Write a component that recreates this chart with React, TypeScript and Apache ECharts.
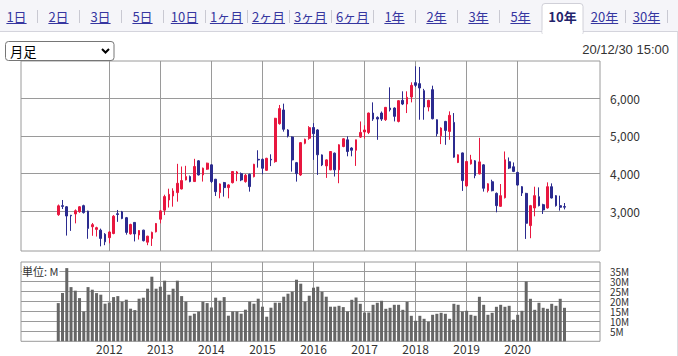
import React, { useEffect, useRef } from 'react';
import * as echarts from 'echarts';

// Monthly candles, Jan 2011 .. Dec 2020
const firstYear = 2011;
const opens = [
  2910, 3150, 3120, 2895, 2930, 2990, 3150, 3005, 2590, 2520,
  2500, 2390, 2300, 2410, 2935, 2985, 2830, 2400, 2705, 2370,
  2500, 2180, 2280, 2455, 2790, 3030, 3300, 3407, 3496, 3593,
  3833, 3922, 3789, 4340, 3966, 4118, 4233, 3851, 3496, 3762,
  3629, 3760, 4000, 4000, 3788, 3982, 3920, 4380, 4380, 4088,
  4380, 4318, 5327, 5690, 5159, 4973, 4292, 3965, 4805, 4938,
  5225, 5160, 4497, 4205, 4100, 4544, 4100, 4720, 4898, 4680,
  4620, 4970, 5106, 5092, 5608, 5493, 5608, 5431, 5741, 5741,
  5386, 5945, 5848, 6034, 6415, 6389, 6202, 5768, 6229, 5431,
  5005, 5386, 5120, 5360, 4295, 4550, 3674, 4259, 4339, 3993,
  4233, 3550, 3785, 3476, 3132, 3362, 4315, 4182, 4032, 3653,
  3476, 2620, 3088, 3388, 3176, 3088, 3653, 3415, 3150, 3125,
];
const closes = [
  3145, 3130, 2875, 2880, 3015, 3120, 2965, 2545, 2645, 2565,
  2280, 2190, 2450, 2870, 2915, 2810, 2440, 2650, 2400, 2490,
  2220, 2340, 2440, 2675, 3010, 3390, 3450, 3540, 3744, 3815,
  3922, 3789, 4189, 3966, 4144, 4278, 3789, 3522, 3726, 3629,
  3700, 4056, 4044, 3832, 3956, 3655, 4248, 4363, 4142, 4407,
  4363, 5469, 5726, 5177, 5000, 4363, 4000, 4823, 4911, 5221,
  5060, 4500, 4230, 4365, 4587, 4100, 4765, 4925, 4587, 4620,
  4898, 5094, 5159, 5608, 5449, 5449, 5449, 5759, 5697, 5520,
  5936, 5848, 6025, 6344, 6344, 6273, 5768, 5945, 5458, 5058,
  5209, 5147, 5547, 4437, 4499, 3815, 4321, 4366, 3948, 4312,
  3612, 3730, 3547, 3150, 3415, 4368, 4147, 4059, 3697, 3485,
  2682, 3150, 3415, 3150, 3035, 3653, 3353, 3150, 3106, 3110,
];
const lows = [
  2880, 3060, 2355, 2480, 2680, 2960, 2940, 2270, 2350, 2330,
  2070, 2100, 2150, 2390, 2720, 2790, 2380, 2380, 2200, 2250,
  2200, 2100, 2080, 2440, 2680, 2900, 3100, 3123, 3256, 3580,
  3820, 3770, 3780, 3950, 3789, 4100, 3750, 3407, 3345, 3389,
  3345, 3740, 3800, 3800, 3760, 3522, 3900, 4159, 3982, 4070,
  4200, 4290, 5300, 5115, 4960, 4053, 3788, 3940, 4780, 4900,
  4365, 3966, 4200, 3887, 4090, 3923, 3745, 4700, 4460, 4460,
  4205, 4950, 4929, 5050, 5400, 4898, 5400, 5400, 5650, 5386,
  5360, 5820, 5608, 5892, 6300, 5431, 5431, 5653, 5440, 4987,
  4783, 4765, 4898, 4420, 4280, 3541, 3650, 4240, 3877, 3980,
  3523, 3500, 3530, 2973, 3120, 3340, 4120, 4040, 3680, 3406,
  2267, 2285, 2867, 3130, 2929, 3070, 3340, 3123, 3018, 3050,
];
const highs = [
  3180, 3300, 3140, 2905, 3050, 3140, 3175, 3015, 2690, 2590,
  2540, 2420, 2470, 2900, 3035, 3010, 2850, 2670, 2710, 2500,
  2510, 2350, 2460, 2690, 3030, 3440, 3600, 3611, 4260, 4189,
  4207, 3950, 4393, 4360, 4160, 4290, 4250, 3860, 3740, 3780,
  3720, 4070, 4070, 4030, 3990, 4000, 4260, 4620, 4400, 4420,
  4513, 5480, 5823, 5858, 5180, 4990, 4310, 4840, 4930, 5260,
  5340, 5180, 4510, 4380, 4600, 4560, 4780, 4940, 4990, 4700,
  4900, 5385, 5283, 5620, 5892, 5520, 5650, 5770, 6291, 5760,
  5950, 6185, 6185, 6424, 6850, 6832, 6250, 5960, 6335, 5440,
  5230, 5400, 5653, 5608, 4510, 4560, 4340, 4499, 4360, 4950,
  4250, 3745, 3838, 3500, 3724, 4588, 4429, 4297, 4050, 3670,
  3490, 3170, 3653, 3635, 3200, 3768, 3741, 3430, 3415, 3220,
];
// Volume, millions of shares
const volumes = [
  19.1, 24.1, 36.6, 27.1, 25.3, 21.6, 14.9, 27.1, 25.8, 24.1,
  23.3, 18.8, 19.4, 22.1, 22.6, 19.8, 20.8, 16.3, 15.6, 21.3,
  21.8, 26.3, 32.3, 26.3, 27.3, 30.3, 23.3, 26.3, 30.3, 22.6,
  19.8, 12.8, 13.8, 14.8, 19.8, 19.1, 16.9, 21.8, 20.3, 22.1,
  12.8, 14.9, 14.9, 13.8, 15.8, 19.8, 18.8, 21.3, 17.3, 12.3,
  16.8, 19.3, 19.3, 22.3, 23.8, 24.8, 30.8, 28.8, 19.8, 22.8,
  26.8, 27.3, 24.8, 22.3, 17.3, 17.3, 17.75, 17.1, 14.9, 20.75,
  21.9, 18.75, 14.4, 14.4, 18.25, 19.25, 20.25, 16.25, 16.75, 18.25,
  18.25, 15.75, 19.75, 12.75, 10.25, 12.75, 11.25, 9.75, 13.25, 13.75,
  14.25, 13.75, 11.25, 18.75, 18.25, 14.9, 15.25, 13.25, 12.75, 22.25,
  18.25, 13.25, 14.25, 17.25, 18.25, 17.25, 17.75, 10.75, 13.25, 15.25,
  29.9, 21.25, 15.75, 19.25, 16.75, 16.25, 18.75, 17.75, 21.25, 16.75,
];
const yearLabels = ['2012', '2013', '2014', '2015', '2016', '2017', '2018', '2019', '2020'];
const priceTicks = [3000, 4000, 5000, 6000];
const volumeTicks = [5, 10, 15, 20, 25, 30, 35];
const tabs = ['1日', '2日', '3日', '5日', '10日', '1ヶ月', '2ヶ月', '3ヶ月', '6ヶ月', '1年', '2年', '3年', '5年', '10年', '20年', '30年'];
const selectedTab = '10年';
const selectLabel = '月足';
const timestamp = '20/12/30 15:00';
const volumeUnit = '単位: M';

const JP = '"Noto Sans CJK JP", "Noto Sans", sans-serif';
const UP = '#e8173f';
const DOWN = '#2b2b8f';
const GRID = '#9a9a9a';

function measure(text: string, font: string): number {
  const ctx = document.createElement('canvas').getContext('2d');
  if (!ctx) return text.length * 13;
  ctx.font = font;
  return ctx.measureText(text).width;
}

function gridMarkLine(xs: number[], ys: number[]) {
  return {
    silent: true,
    z: 1,
    symbol: ['none', 'none'],
    label: { show: false },
    emphasis: { disabled: true },
    lineStyle: { color: GRID, width: 1, type: 'solid' },
    data: [...xs.map((v) => ({ xAxis: v })), ...ys.map((v) => ({ yAxis: v }))],
  };
}

export default function App() {
  const ref = useRef<HTMLDivElement>(null);
  useEffect(() => {
    if (!ref.current) return;
    const chart = echarts.init(ref.current, undefined, { renderer: 'svg' });
    const candleData = opens.map((o, i) => [i, o, closes[i], lows[i], highs[i]]);
    const volData = volumes.map((v, i) => [i, v]);
    const yearTicks = yearLabels.map((y) => (Number(y) - firstYear) * 12);

    const graphics: any[] = [];
    graphics.push({ type: 'rect', silent: true, shape: { x: 0, y: 0, width: 678, height: 31 }, style: { fill: '#f5f5f9' } });
    graphics.push({ type: 'line', silent: true, shape: { x1: 0, y1: 31.5, x2: 678, y2: 31.5 }, style: { stroke: '#d4d4dc', lineWidth: 1 } });
    graphics.push({ type: 'line', silent: true, shape: { x1: 677.5, y1: 31.5, x2: 677.5, y2: 356 }, style: { stroke: '#dcdce2', lineWidth: 1 } });
    const tabFont = '13px ' + JP;
    tabs.forEach((t, k) => {
      const cx = 16.5 + 42 * k;
      const sel = t === selectedTab;
      if (sel) {
        graphics.push({ type: 'rect', silent: true, shape: { x: cx - 20.5, y: 3.5, width: 41, height: 30, r: [3, 3, 0, 0] }, style: { fill: '#ffffff', stroke: '#d0d0d8', lineWidth: 1 } });
        graphics.push({ type: 'rect', silent: true, shape: { x: cx - 20, y: 30, width: 40, height: 5 }, style: { fill: '#ffffff' } });
      }
      graphics.push({
        type: 'text', silent: true, z: 10,
        style: { text: t, x: cx, y: 16.5, textAlign: 'center', textVerticalAlign: 'middle', fontSize: 13, fontFamily: JP, fontWeight: sel ? 'bold' : 'normal', fill: sel ? '#23236b' : '#3636a0' },
      });
      if (!sel) {
        const w = measure(t, tabFont);
        graphics.push({ type: 'line', silent: true, z: 10, shape: { x1: cx - w / 2, y1: 23.5, x2: cx + w / 2, y2: 23.5 }, style: { stroke: '#3636a0', lineWidth: 1 } });
      }
      const nextSel = tabs[k + 1] === selectedTab;
      if (!sel && !nextSel) {
        graphics.push({ type: 'line', silent: true, shape: { x1: cx + 21, y1: 10, x2: cx + 21, y2: 23 }, style: { stroke: '#c9c9d2', lineWidth: 1 } });
      }
    });
    // select box
    graphics.push({ type: 'rect', silent: true, z: 10, shape: { x: 5.5, y: 41.5, width: 108.5, height: 19, r: 3 }, style: { fill: '#ffffff', stroke: '#767676', lineWidth: 1 } });
    graphics.push({ type: 'text', silent: true, z: 11, style: { text: selectLabel, x: 10, y: 51.5, textVerticalAlign: 'middle', fontSize: 13.33, fontFamily: JP, fill: '#000000' } });
    graphics.push({ type: 'polyline', silent: true, z: 11, shape: { points: [[102, 49], [105.5, 52.5], [109, 49]] }, style: { stroke: '#000000', lineWidth: 2, fill: null } });
    graphics.push({ type: 'text', silent: true, style: { text: timestamp, x: 669, y: 49.5, textAlign: 'right', textVerticalAlign: 'middle', fontSize: 13, fontFamily: '"Liberation Sans", Arial, sans-serif', fill: '#333333' } });
    graphics.push({ type: 'text', silent: true, z: 20, style: { text: volumeUnit, x: 22, y: 271, textVerticalAlign: 'middle', fontSize: 11, fontFamily: JP, fill: '#333333', backgroundColor: '#ffffff', padding: [0, 1, 0, 0] } });

    const xCommon = { type: 'value', min: -8.76, max: 127.35 };
    chart.setOption({
      animation: false,
      grid: [
        { left: 21, top: 61, width: 579, height: 190, show: true, borderColor: GRID, borderWidth: 1 },
        { left: 21, top: 262, width: 579, height: 79.3, show: true, borderColor: GRID, borderWidth: 1 },
      ],
      xAxis: [
        {
          ...xCommon, gridIndex: 0,
          axisLine: { show: false },
          axisTick: { show: false },
          axisLabel: { show: false },
          splitLine: { show: false },
        },
        {
          ...xCommon, gridIndex: 1,
          axisLine: { show: false },
          axisTick: { show: false, customValues: yearTicks },
          axisLabel: {
            show: true, customValues: yearTicks, margin: 1, fontSize: 12, lineHeight: 12, fontFamily: JP, color: '#333333',
            showMinLabel: true, showMaxLabel: true, hideOverlap: false,
            formatter: (v: number) => yearLabels[Math.round(v / 12) - 1] ?? '',
          },
          splitLine: { show: false },
        },
      ],
      yAxis: [
        {
          type: 'value', gridIndex: 0, position: 'right', min: 1946, max: 6990,
          axisLine: { show: false },
          axisTick: { show: false, customValues: priceTicks },
          axisLabel: {
            customValues: priceTicks, margin: 10, fontSize: 12, fontFamily: JP, color: '#333333',
            showMinLabel: true, showMaxLabel: true, hideOverlap: false,
            formatter: (v: number) => v.toLocaleString('en-US'),
          },
          splitLine: { show: false },
        },
        {
          type: 'value', gridIndex: 1, position: 'right', min: 0, max: 39.65,
          axisLine: { show: false },
          axisTick: { show: false, customValues: volumeTicks },
          axisLabel: {
            customValues: volumeTicks, margin: 10, fontSize: 10, lineHeight: 10, fontFamily: JP, color: '#333333',
            showMinLabel: true, showMaxLabel: true, hideOverlap: false,
            formatter: (v: number) => v + 'M',
          },
          splitLine: { show: false },
        },
      ],
      series: [
        {
          type: 'candlestick', xAxisIndex: 0, yAxisIndex: 0, data: candleData, barWidth: 2.2, z: 3,
          itemStyle: { color: UP, color0: DOWN, borderColor: UP, borderColor0: DOWN, borderWidth: 1 },
          markLine: gridMarkLine(yearTicks, priceTicks),
        },
        {
          type: 'bar', xAxisIndex: 1, yAxisIndex: 1, data: volData, barWidth: 3, z: 3,
          itemStyle: { color: '#666666' },
          markLine: gridMarkLine(yearTicks, volumeTicks),
        },
      ],
      graphic: graphics,
    });
    return () => chart.dispose();
  }, []);
  return <div ref={ref} style={{ position: 'fixed', left: 0, top: 0, width: 678, height: 356, background: '#ffffff' }} />;
}
